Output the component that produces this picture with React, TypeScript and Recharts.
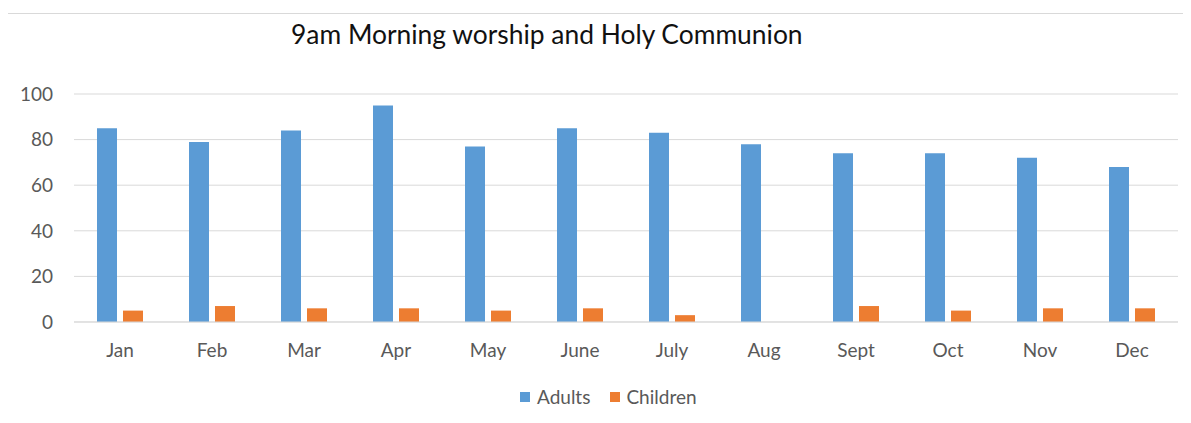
import React from "react";
import {
    BarChart,
    Bar,
    XAxis,
    YAxis,
    CartesianGrid,
} from "recharts";

const months = ["Jan", "Feb", "Mar", "Apr", "May", "June", "July", "Aug", "Sept", "Oct", "Nov", "Dec"];
const adults = [85, 79, 84, 95, 77, 85, 83, 78, 74, 74, 72, 68];
const children = [5, 7, 6, 6, 5, 6, 3, 0, 7, 5, 6, 6];
const yTicks = [0, 20, 40, 60, 80, 100];

const colors = {
    adults: "#5B9BD5",
    children: "#ED7D31",
    grid: "#D9D9D9",
    text: "#595959",
};

const font = "Lato, Carlito, 'Open Sans', sans-serif";

const App: React.FC = () => {
    const chartData = months.map((m, i) => ({
        month: m,
        adults: adults[i],
        children: children[i],
    }));

    return (
        <div style={{ position: "relative", width: 1191, height: 423, margin: -8, background: "#fff", fontFamily: font }}>
            {/* chart frame */}
            <div style={{ position: "absolute", left: 7, top: 13, right: 0, bottom: 0, borderTop: `1px solid ${colors.grid}`, borderLeft: `1px solid ${colors.grid}` }} />

            <div style={{ position: "absolute", left: 291, top: 18, fontSize: 26.4, color: "#111", whiteSpace: "nowrap" }}>
                9am Morning worship and Holy Communion
            </div>

            <div style={{ position: "absolute", left: 0, top: 0 }}>
                <BarChart
                    width={1191}
                    height={423}
                    data={chartData}
                    margin={{ top: 94, right: 13, left: 14, bottom: 71 }}
                    barGap={6}
                    barCategoryGap={23}
                >
                    <CartesianGrid vertical={false} stroke={colors.grid} strokeWidth={1} />
                    <XAxis
                        dataKey="month"
                        height={30}
                        axisLine={{ stroke: colors.grid }}
                        tickLine={false}
                        tickMargin={16}
                        tick={{ fill: colors.text, fontSize: 19, fontFamily: font }}
                        interval={0}
                    />
                    <YAxis
                        width={60}
                        domain={[0, 100]}
                        ticks={yTicks}
                        axisLine={false}
                        tickLine={false}
                        tickMargin={15}
                        tick={{ fill: colors.text, fontSize: 19, fontFamily: font }}
                    />
                    <Bar dataKey="adults" name="Adults" fill={colors.adults} isAnimationActive={false} />
                    <Bar dataKey="children" name="Children" fill={colors.children} isAnimationActive={false} />
                </BarChart>
            </div>

            {/* legend */}
            <div style={{ position: "absolute", left: 520, top: 385, display: "flex", alignItems: "center", fontSize: 19, color: colors.text }}>
                <span style={{ width: 10, height: 10, background: colors.adults, display: "inline-block", marginRight: 7 }} />
                <span>Adults</span>
                <span style={{ width: 10, height: 10, background: colors.children, display: "inline-block", marginLeft: 20, marginRight: 6 }} />
                <span>Children</span>
            </div>
        </div>
    );
};

export default App;
